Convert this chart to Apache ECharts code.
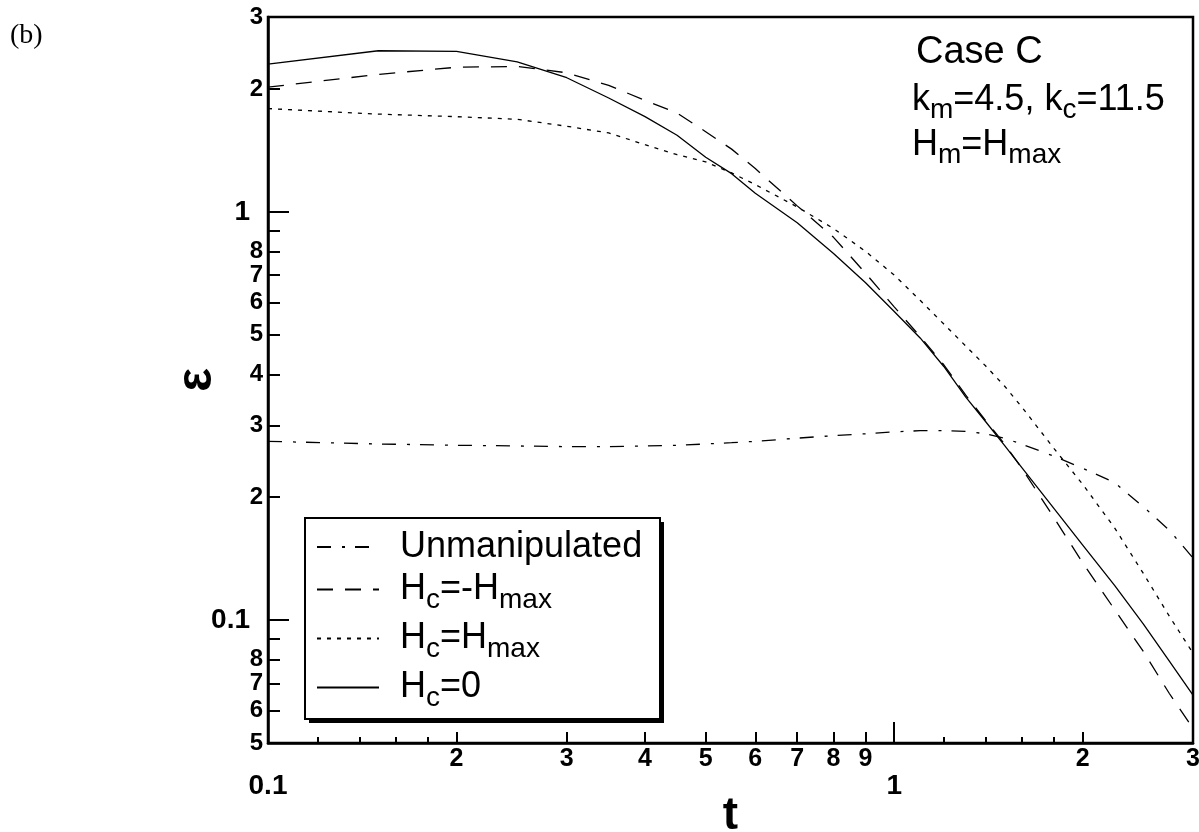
<!DOCTYPE html>
<html><head><meta charset="utf-8">
<script src="https://cdn.jsdelivr.net/npm/echarts@6/dist/echarts.min.js"></script>
<style>html,body{margin:0;padding:0;background:#fff}#c{width:1199px;height:832px}</style>
</head><body><div id="c"></div>
<script>
// ---- data (t, epsilon) ----
const tValues = [0.1,0.15,0.2,0.25,0.3,0.35,0.4,0.45,0.5,0.55,0.6,0.7,0.8,0.9,1.0,1.1,1.2,1.3,1.4,1.5,1.6,1.8,2.0,2.25,2.5,2.75,3.0];
const unmanipulated = [0.274,0.270,0.268,0.267,0.266,0.266,0.267,0.268,0.270,0.272,0.274,0.279,0.283,0.286,0.289,0.291,0.291,0.290,0.286,0.279,0.2695,0.252,0.2355,0.217,0.1894,0.166,0.142];
const hcMinusHmax = [2.02,2.17,2.26,2.27,2.19,2.04,1.875,1.745,1.571,1.424,1.276,1.034,0.866,0.707,0.585,0.495,0.422,0.356,0.308,0.270,0.235,0.178,0.138,0.106,0.0837,0.0661,0.0543];
const hcPlusHmax = [1.79,1.735,1.71,1.685,1.62,1.56,1.46,1.38,1.325,1.245,1.166,1.028,0.91,0.80,0.70,0.607,0.531,0.4696,0.419,0.3744,0.332,0.263,0.215,0.168,0.130,0.1022,0.083];
const hcZero = [2.30,2.48,2.47,2.33,2.13,1.90,1.71,1.54,1.36,1.24,1.11,0.94,0.79,0.67,0.57,0.491,0.418,0.352,0.306,0.268,0.236,0.1875,0.1527,0.1214,0.0978,0.0793,0.0655];

const seriesNames = ['Unmanipulated','Hc=-Hmax','Hc=Hmax','Hc=0'];

// ---- ticks and tick labels ----
const xMinorTicks = [0.12,0.14,0.16,0.18,1.2,1.4,1.6,1.8];
const xMidTicks = [0.2,0.3,0.4,0.5,0.6,0.7,0.8,0.9,2,3];
const xMidLabels = ['2','3','4','5','6','7','8','9','2','3'];
const xMajorTicks = [1];
const xMajorLabelValues = [0.1,1];
const xMajorLabels = ['0.1','1'];

const yMinorTicks = [0.06,0.07,0.08,0.09,0.2,0.3,0.4,0.5,0.6,0.7,0.8,0.9,2];
const yMinorLabelValues = [0.05,0.06,0.07,0.08,0.2,0.3,0.4,0.5,0.6,0.7,0.8,2,3];
const yMinorLabels = ['5','6','7','8','2','3','4','5','6','7','8','2','3'];
const yMajorTicks = [0.1,1];
const yMajorLabels = ['0.1','1'];

const BLACK = '#000';
const sans = "'Liberation Sans',Arial,Helvetica,sans-serif";
const narrowSans = "'Liberation Sans Narrow','Liberation Sans',Arial,sans-serif";

function lookup(vals, labels) {
  return function (v) {
    for (let i = 0; i < vals.length; i++) {
      if (Math.abs(vals[i] - v) < vals[i] * 1e-6) return labels[i];
    }
    return '';
  };
}

function logAxis(min, max, position, extra) {
  return Object.assign({
    type: 'log', logBase: 10, min: min, max: max, position: position,
    axisLine: {show: false, onZero: false, lineStyle: {color: BLACK, width: 2.5}},
    axisTick: {show: false},
    minorTick: {show: false},
    splitLine: {show: false},
    minorSplitLine: {show: false},
    axisLabel: {show: false}
  }, extra);
}

const tickStyle = {color: BLACK, width: 2};

const xAxes = [
  logAxis(0.1, 3, 'bottom', {
    name: 't', nameLocation: 'middle', nameGap: 50,
    nameTextStyle: {fontFamily: sans, fontWeight: 'bold', fontSize: 46, color: BLACK},
    axisLine: {show: true, onZero: false, lineStyle: {color: BLACK, width: 2.5}},
    axisTick: {show: true, inside: true, length: 11, customValues: xMidTicks, lineStyle: tickStyle},
    axisLabel: {show: true, customValues: xMidTicks, formatter: lookup(xMidTicks, xMidLabels),
      margin: 4, fontFamily: narrowSans, fontWeight: 'bold', fontSize: 25, color: BLACK}
  }),
  logAxis(0.1, 3, 'bottom', {
    axisTick: {show: true, inside: true, length: 6, customValues: xMinorTicks, lineStyle: tickStyle}
  }),
  logAxis(0.1, 3, 'bottom', {
    axisTick: {show: true, inside: true, length: 21, customValues: xMajorTicks, lineStyle: tickStyle},
    axisLabel: {show: true, customValues: xMajorLabelValues, formatter: lookup(xMajorLabelValues, xMajorLabels),
      margin: 29, fontFamily: sans, fontWeight: 'bold', fontSize: 28, color: BLACK}
  })
];

const yAxes = [
  logAxis(0.05, 3, 'left', {
    name: 'ε', nameLocation: 'middle', nameGap: 46,
    nameTextStyle: {fontFamily: sans, fontWeight: 'bold', fontSize: 50, color: BLACK},
    axisLine: {show: true, onZero: false, lineStyle: {color: BLACK, width: 2.5}},
    axisTick: {show: true, inside: true, length: 12, customValues: yMinorTicks, lineStyle: tickStyle},
    axisLabel: {show: true, customValues: yMinorLabelValues, formatter: lookup(yMinorLabelValues, yMinorLabels),
      margin: 5, fontFamily: narrowSans, fontWeight: 'bold', fontSize: 24, color: BLACK}
  }),
  logAxis(0.05, 3, 'left', {
    axisTick: {show: true, inside: true, length: 21, customValues: yMajorTicks, lineStyle: tickStyle},
    axisLabel: {show: true, customValues: yMajorTicks, formatter: lookup(yMajorTicks, yMajorLabels),
      margin: 18, fontFamily: sans, fontWeight: 'bold', fontSize: 28, color: BLACK}
  })
];

function lineSeries(name, values, dash, width) {
  return {
    type: 'line', name: name,
    data: tValues.map(function (t, i) { return [t, values[i]]; }),
    xAxisIndex: 0, yAxisIndex: 0,
    symbol: 'none', showSymbol: false, silent: true, clip: true,
    lineStyle: {color: BLACK, width: width, type: dash},
    itemStyle: {color: BLACK}
  };
}

const legendRich = {
  g: {width: 16},
  n: {fontFamily: sans, fontSize: 36, lineHeight: 33, color: BLACK},
  s: {fontFamily: sans, fontSize: 28, lineHeight: 28, padding: [21, 0, 0, 0], color: BLACK}
};
const legendText = {
  'Unmanipulated': '{g| }{n|Unmanipulated}',
  'Hc=-Hmax': '{g| }{n|H}{s|c}{n|=-H}{s|max}',
  'Hc=Hmax': '{g| }{n|H}{s|c}{n|=H}{s|max}',
  'Hc=0': '{g| }{n|H}{s|c}{n|=0}'
};

const annRich = {
  n: {fontFamily: sans, fontSize: 36, lineHeight: 40, fill: BLACK},
  s: {fontFamily: sans, fontSize: 28, lineHeight: 28, padding: [20, 0, 0, 0], fill: BLACK}
};

const option = {
  animation: false,
  backgroundColor: '#fff',
  grid: {left: 268, right: 6, top: 17, bottom: 89, outerBoundsMode: 'none', containLabel: false,
    show: true, borderColor: BLACK, borderWidth: 2.5, backgroundColor: 'transparent'},
  xAxis: xAxes,
  yAxis: yAxes,
  legend: {
    data: seriesNames,
    orient: 'vertical', left: 305, top: 518,
    padding: [11, 19, 6, 11], itemGap: 0,
    itemWidth: 62, itemHeight: 14,
    backgroundColor: 'transparent', borderWidth: 0,
    itemStyle: {opacity: 0},
    selectedMode: false,
    formatter: function (name) { return legendText[name]; },
    textStyle: {fontFamily: sans, fontSize: 36, color: BLACK, rich: legendRich}
  },
  graphic: [
    {type: 'rect', z: 1, shape: {x: 309, y: 522, width: 355, height: 201}, style: {fill: BLACK}},
    {type: 'rect', z: 1, shape: {x: 305, y: 518, width: 355, height: 201}, style: {fill: '#fff', stroke: BLACK, lineWidth: 2}},
    {type: 'text', left: 10, top: 22, style: {text: '(b)', fill: BLACK, font: "28px 'Liberation Serif','Times New Roman',serif"}},
    {type: 'text', left: 916, top: 34, style: {text: 'Case C', fill: BLACK, font: "38px 'Liberation Sans',Arial,sans-serif"}},
    {type: 'text', left: 912, top: 76, style: {text: '{n|k}{s|m}{n|=4.5, k}{s|c}{n|=11.5}', fill: BLACK, rich: annRich}},
    {type: 'text', left: 912, top: 121, style: {text: '{n|H}{s|m}{n|=H}{s|max}', fill: BLACK, rich: annRich}}
  ],
  series: [
    lineSeries(seriesNames[0], unmanipulated, [14, 11, 3, 10], 1.3),
    lineSeries(seriesNames[1], hcMinusHmax, [16, 12], 1.3),
    lineSeries(seriesNames[2], hcPlusHmax, [4, 6], 1.3),
    lineSeries(seriesNames[3], hcZero, 'solid', 1.3)
  ]
};

const chart = echarts.init(document.getElementById('c'), null, {renderer: 'canvas'});
chart.setOption(option);
</script>
</body></html>
